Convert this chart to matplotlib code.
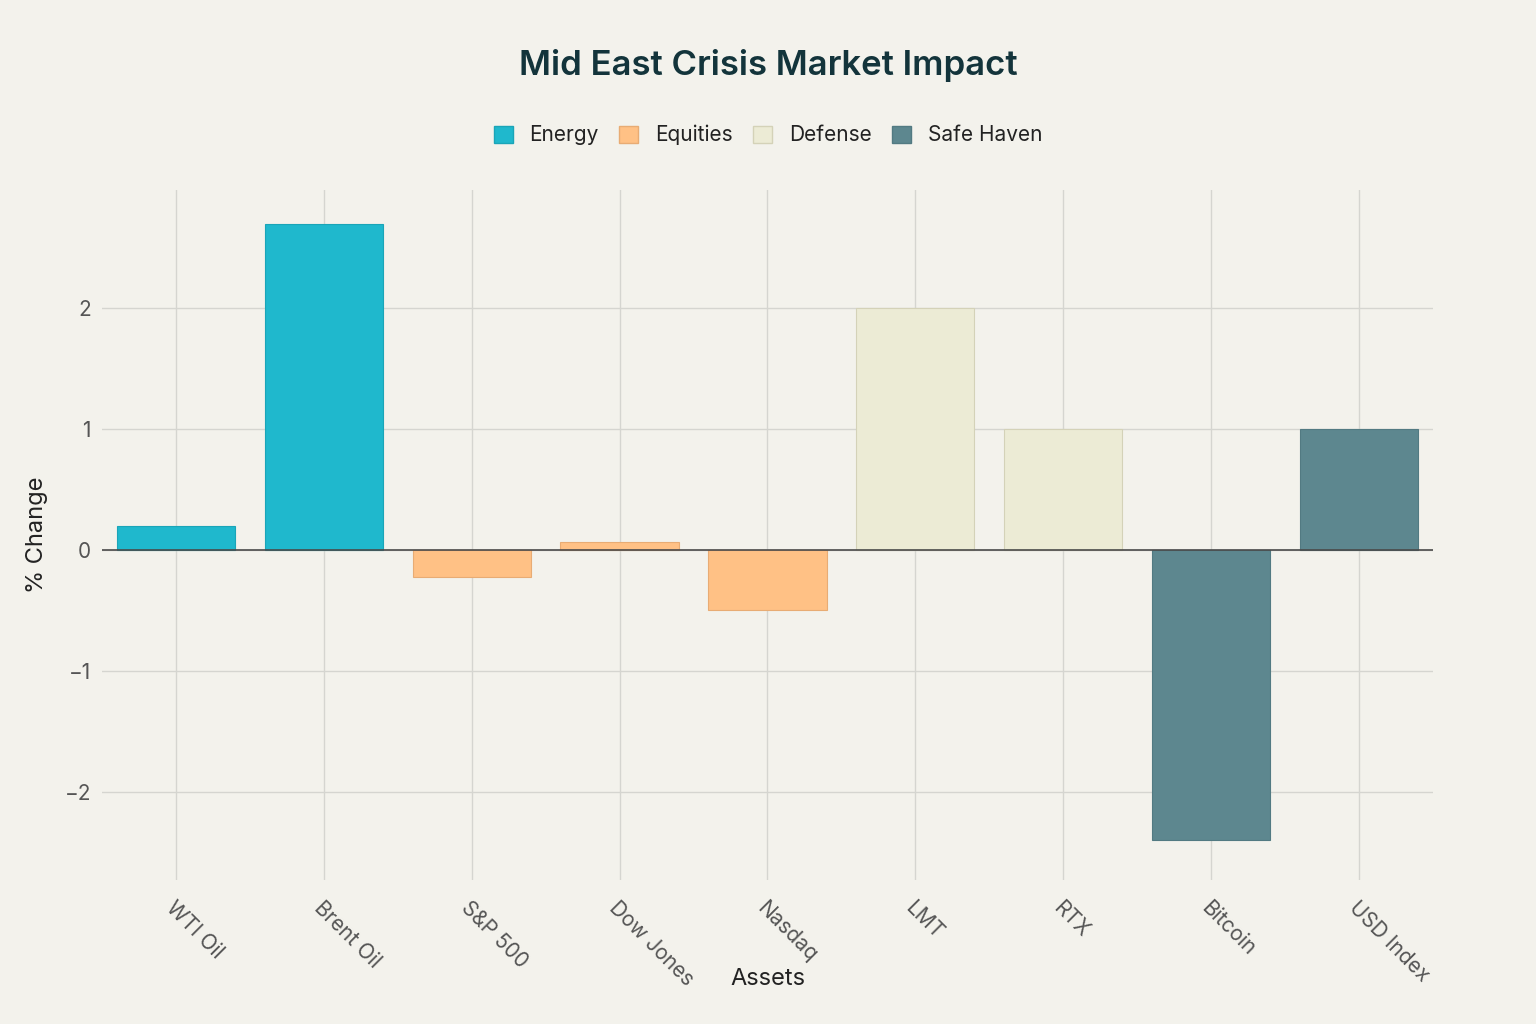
import matplotlib.pyplot as plt
from matplotlib.patches import Patch

plt.rcParams['font.family'] = ['Inter', 'DejaVu Sans']

# Data
assets = ['WTI Oil', 'Brent Oil', 'S&P 500', 'Dow Jones', 'Nasdaq', 'LMT', 'RTX', 'Bitcoin', 'USD Index']
changes = [0.2, 2.7, -0.22, 0.07, -0.5, 2.0, 1.0, -2.4, 1.0]
groups = ['Energy', 'Energy', 'Equities', 'Equities', 'Equities', 'Defense', 'Defense', 'Safe Haven', 'Safe Haven']
group_names = ['Energy', 'Equities', 'Defense', 'Safe Haven']
group_colors = {'Energy': '#1FB8CD', 'Equities': '#FFC185', 'Defense': '#ECEBD5', 'Safe Haven': '#5D878F'}
edge_colors = {'Energy': '#1AA5B8', 'Equities': '#E8AC74', 'Defense': '#D4D2B8', 'Safe Haven': '#527A82'}

bg = '#F3F2EC'
fig = plt.figure(figsize=(15.36, 10.24), dpi=100, facecolor=bg)
ax = fig.add_axes([0.0664, 0.1406, 0.8665, 0.674])
ax.set_facecolor(bg)

x = list(range(len(assets)))
ax.bar(x, changes, width=0.8,
       color=[group_colors[g] for g in groups],
       edgecolor=[edge_colors[g] for g in groups], linewidth=0.8, zorder=2)

ax.axhline(0, color='#4A4A4A', linewidth=1.2, zorder=3)

ax.set_xlim(-0.5, 8.5)
ax.set_ylim(-2.73, 2.98)
ax.set_yticks([-2, -1, 0, 1, 2])
ax.set_yticklabels(['\u22122', '\u22121', '0', '1', '2'])
ax.set_xticks(x)
ax.set_xticklabels(assets, rotation=-45, ha='left', va='top', rotation_mode='anchor')

ax.grid(True, color='#D5D5D0', linewidth=1, zorder=0)
ax.set_axisbelow(True)
for s in ax.spines.values():
    s.set_visible(False)
ax.tick_params(axis='both', length=0, labelsize=15, labelcolor='#555555', pad=8)
ax.tick_params(axis='x', pad=13)

ax.set_xlabel('Assets', fontsize=17, color='#222222')
ax.xaxis.set_label_coords(0.5, -0.128)
ax.set_ylabel('% Change', fontsize=17, color='#222222', labelpad=12)

fig.suptitle('Mid East Crisis Market Impact', fontsize=25, fontweight='semibold', color='#13343B', y=0.952)

handles = [Patch(facecolor=group_colors[g], edgecolor=edge_colors[g], label=g) for g in group_names]
fig.legend(handles=handles, loc='center', bbox_to_anchor=(0.5, 0.868), ncol=4, frameon=False,
           fontsize=15, labelcolor='#222222', handlelength=0.9, handleheight=0.9,
           columnspacing=1.0, handletextpad=0.8)

fig.savefig('out.png', dpi=100, facecolor=bg)
